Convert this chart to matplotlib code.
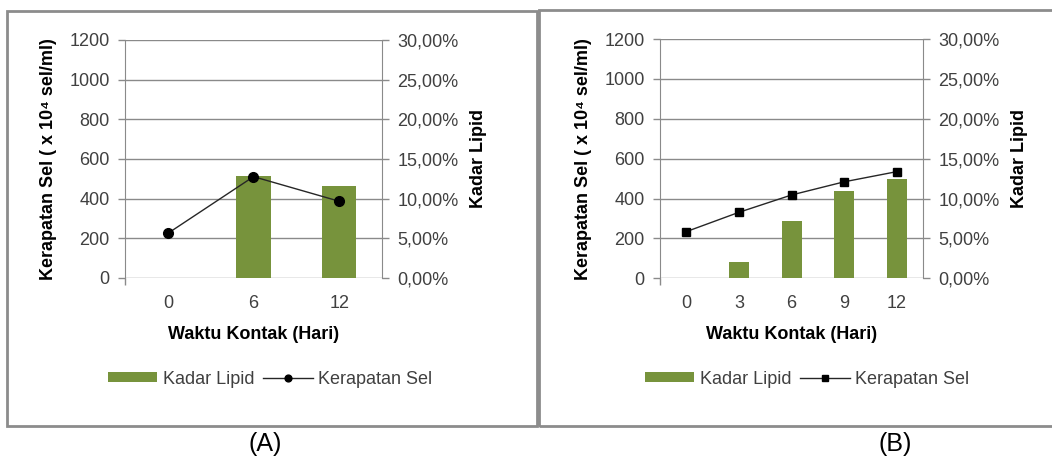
import matplotlib
matplotlib.use("Agg")
import matplotlib.pyplot as plt
from matplotlib.patches import Rectangle
from matplotlib.ticker import FuncFormatter, FixedLocator

plt.rcParams['font.family'] = ['Liberation Sans', 'DejaVu Sans']

# Data
hari_a = ["0", "6", "12"]
lipid_a = [0.0, 0.128, 0.116]          # Kadar Lipid (fraction)
kerapatan_a = [225, 511, 387]          # Kerapatan Sel (x 10^4 sel/ml)

hari_b = ["0", "3", "6", "9", "12"]
lipid_b = [0.0, 0.020, 0.0715, 0.110, 0.124]
kerapatan_b = [234, 331, 418, 484, 535]

left_ticks = [0, 200, 400, 600, 800, 1000, 1200]
right_ticks = [0.0, 0.05, 0.10, 0.15, 0.20, 0.25, 0.30]

BAR = "#77933c"
GRID = "#8a8a8a"
TXT = "#404040"
FS = 13


def pct(v, pos):
    return f"{v * 100:.2f}%".replace(".", ",")


def draw_panel(rect, cats, lipid, kerapatan, marker, msize, bar_w, leg_x):
    axb = fig.add_axes(rect)           # bars on the percent scale, drawn below
    ax = fig.add_axes(rect, sharex=axb)  # line on the cell-density scale, on top
    ax.patch.set_visible(False)
    x = list(range(len(cats)))

    # bars on right (percent) axis
    axb.bar(x, lipid, width=bar_w, color=BAR, zorder=2, label="Kadar Lipid")
    axb.set_ylim(0, 0.30)
    axb.yaxis.tick_right()
    axb.yaxis.set_label_position("right")
    axb.set_yticks(right_ticks)
    axb.yaxis.set_major_formatter(FuncFormatter(pct))
    axb.set_axisbelow(True)
    axb.grid(axis="y", color=GRID, lw=1.0)
    axb.set_ylabel("Kadar Lipid", fontsize=FS, fontweight="bold", labelpad=8)

    # line on left axis
    ax.plot(x, kerapatan, color="#262626", lw=1.0, marker=marker,
            ms=msize, mfc="black", mec="black", zorder=3, label="Kerapatan Sel")
    ax.set_ylim(0, 1200)
    ax.set_yticks(left_ticks)
    ax.set_xlim(-0.5, len(cats) - 0.5)
    ax.set_xticks(x)
    ax.set_xticklabels(cats)
    ax.xaxis.set_minor_locator(FixedLocator([-0.5]))
    ax.set_ylabel("Kerapatan Sel ( x 10\u2074 sel/ml)", fontsize=FS,
                  fontweight="bold", labelpad=9)
    ax.set_xlabel("Waktu Kontak (Hari)", fontsize=FS, fontweight="bold", labelpad=10)

    for a in (ax, axb):
        for s in a.spines.values():
            s.set_visible(False)
    ax.spines["left"].set_visible(True)
    ax.spines["left"].set_color(GRID)
    axb.spines["right"].set_visible(True)
    axb.spines["right"].set_color(GRID)

    ax.tick_params(axis="y", direction="out", length=5, width=1, color=GRID,
                   labelsize=FS, labelcolor=TXT, pad=6)
    ax.tick_params(axis="x", which="major", length=0, labelsize=FS,
                   labelcolor=TXT, pad=12)
    ax.tick_params(axis="x", which="minor", direction="out", length=5,
                   width=1, color=GRID)
    axb.tick_params(axis="y", direction="out", length=5, width=1, color=GRID,
                    labelsize=FS, labelcolor=TXT, pad=6)
    axb.tick_params(axis="x", length=0, labelbottom=False)

    h1, l1 = axb.get_legend_handles_labels()
    h2, l2 = ax.get_legend_handles_labels()
    fig.legend(h1 + h2, l1 + l2, loc="center", bbox_to_anchor=(leg_x, 1 - 379 / 461),
               ncol=2, frameon=False, fontsize=FS, handlelength=2.75,
               handleheight=0.45, handletextpad=0.3, columnspacing=0.5,
               markerscale=0.7, labelcolor=TXT)


fig = plt.figure(figsize=(10.52, 4.61), dpi=100)

draw_panel([125 / 1052, 1 - 278 / 461, 257 / 1052, 238 / 461],
           hari_a, lipid_a, kerapatan_a, "o", 7, 0.4, 270 / 1052)
draw_panel([660 / 1052, 1 - 278.3 / 461, 263.3 / 1052, 239.3 / 461],
           hari_b, lipid_b, kerapatan_b, "s", 5.5, 0.38, 807 / 1052)

# panel frames
fig.patches.append(Rectangle((7 / 1052, 1 - 426 / 461), 530 / 1052, 415 / 461,
                             transform=fig.transFigure, fill=False,
                             ec="#8c8c8c", lw=2))
fig.patches.append(Rectangle((539 / 1052, 1 - 426 / 461), 520 / 1052, 416 / 461,
                             transform=fig.transFigure, fill=False,
                             ec="#8c8c8c", lw=2))

fig.text(265 / 1052, 1 - 444 / 461, "(A)", fontsize=18, ha="center", va="center")
fig.text(895 / 1052, 1 - 444 / 461, "(B)", fontsize=18, ha="center", va="center")

fig.savefig("out.png", dpi=100, facecolor="white")
